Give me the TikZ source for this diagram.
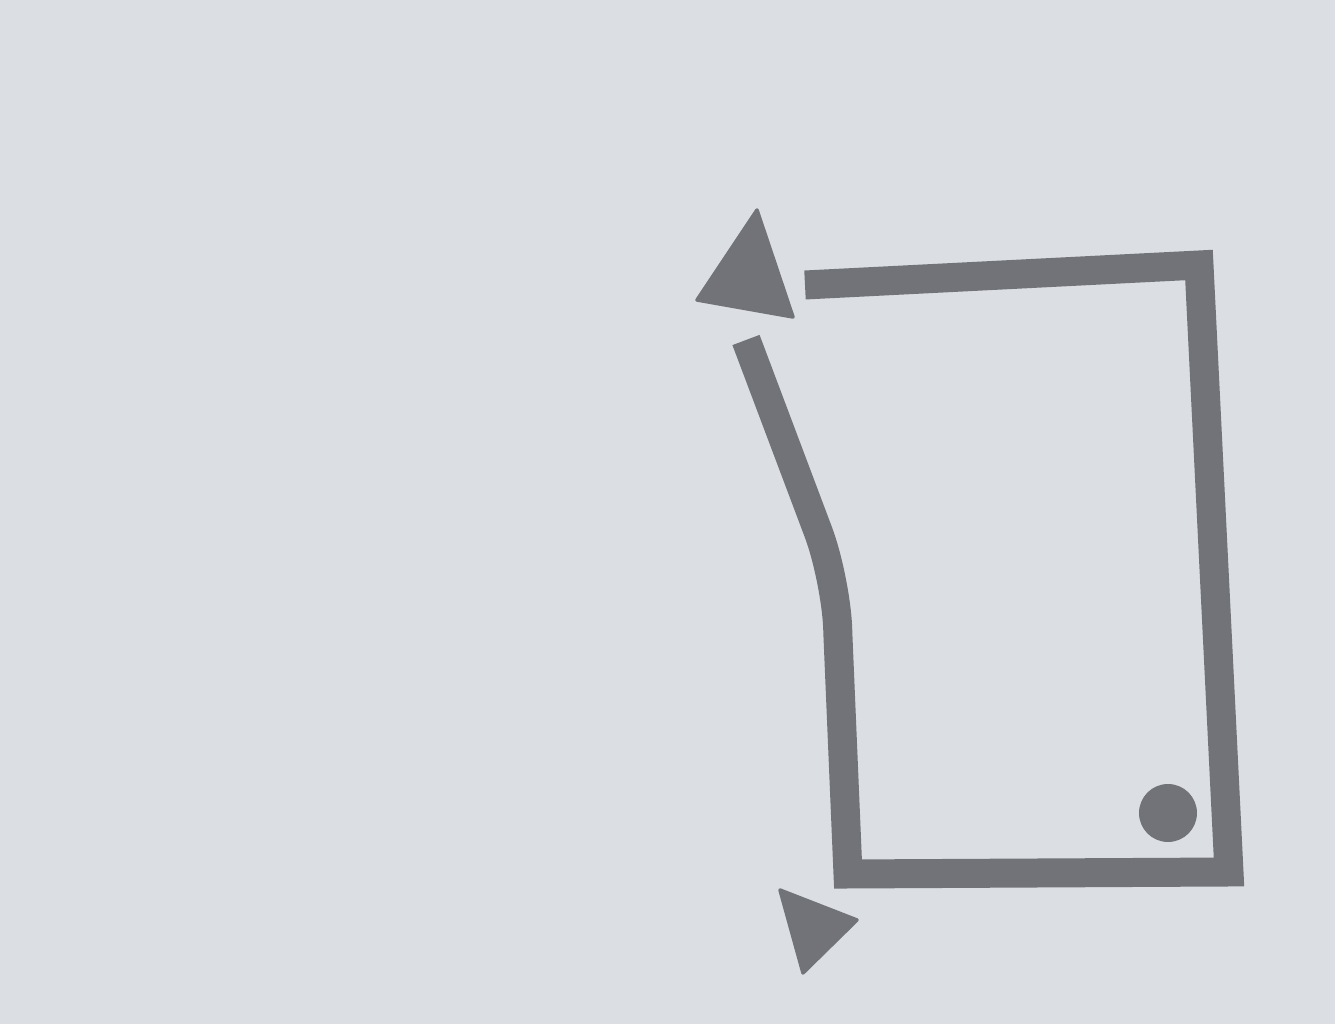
\documentclass[tikz,border=0pt]{standalone}
\usepackage{tikz}
\usetikzlibrary{calc}

\definecolor{paper}{HTML}{DBDEE3}
\definecolor{ink}{HTML}{717379}

\begin{document}
\begin{tikzpicture}[
  stroke/.style = {draw=ink, line width=0.29cm, line cap=butt, line join=miter},
  tip/.style = {fill=ink, draw=ink, line width=1pt, line join=round}
]

  % Background
  \fill[paper] (0,0) rectangle (13.35,10.24);
  \useasboundingbox (0,0) rectangle (13.35,10.24);

  % Upper tip
  \path[tip] (7.57,8.14) -- (6.97,7.24) -- (7.93,7.07) -- cycle;

  % Loop
  \draw[stroke] (8.05,7.39) -- (11.99,7.59) -- (12.29,1.52) -- (8.48,1.50)
    -- (8.38,3.87) [rounded corners=0.5cm] -- (8.36,4.45) [rounded corners=0pt] -- (7.46,6.84);

  % Lower tip
  \path[tip] (7.80,1.34) -- (8.57,1.04) -- (8.03,0.51) -- cycle;

  % Dot
  \fill[ink] (11.68,2.11) circle (0.29);

\end{tikzpicture}
\end{document}
